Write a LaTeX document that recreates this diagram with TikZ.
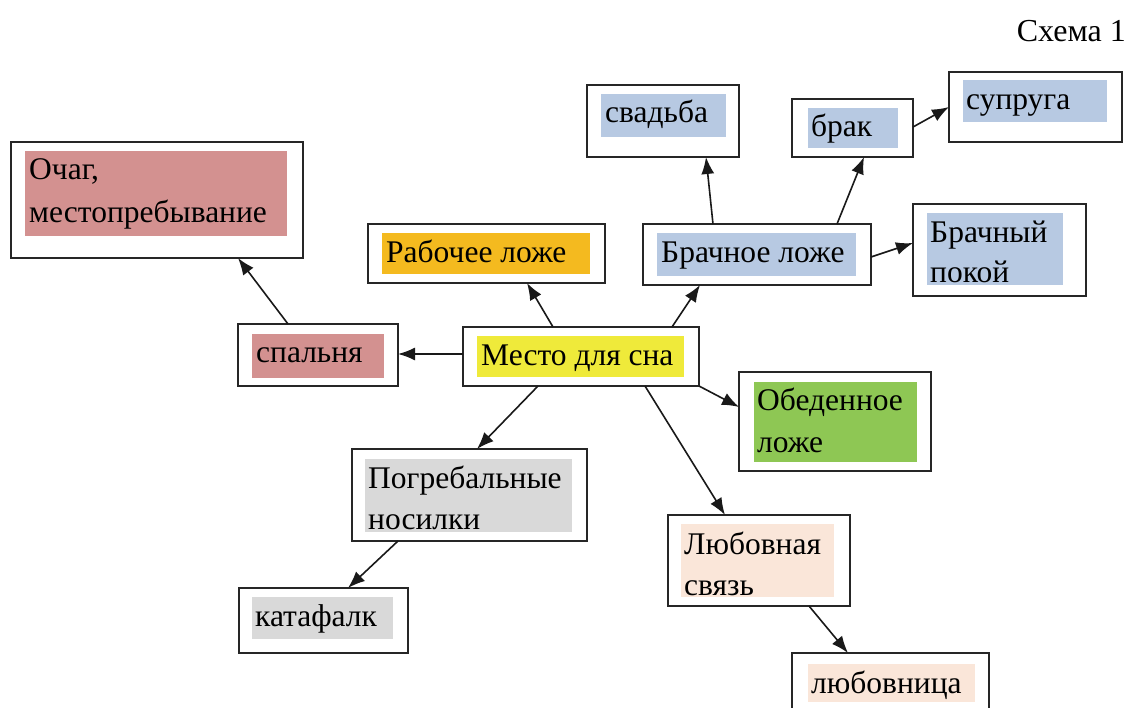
\documentclass[tikz,border=0pt]{standalone}
\usepackage{fontspec}
\setmainfont{Liberation Serif}
\usetikzlibrary{calc,arrows.meta}
\definecolor{cpink}{HTML}{D39190}
\definecolor{corange}{HTML}{F4BA1F}
\definecolor{cyellow}{HTML}{EFEA3A}
\definecolor{cblue}{HTML}{B7C9E2}
\definecolor{cgreen}{HTML}{8EC754}
\definecolor{cpeach}{HTML}{FAE6D9}
\definecolor{cgrey}{HTML}{D9D9D9}
\tikzset{
  box/.style={draw=black!85, line width=1.7pt, fill=white, inner sep=0pt, outer sep=0pt, rectangle},
  hl/.style={fill=#1, draw=none, inner sep=0pt, outer sep=0pt, rectangle},
  lbl/.style={anchor=base west, inner sep=0pt, font=\fontsize{31.5}{41}\selectfont},
  arr/.style={line width=1.6pt, draw=black!90, -{Latex[length=17pt,width=13pt]}},
}
\newcommand\mkrect[6][box]{\node[#1, minimum width={#5-#3}, minimum height={#6-#4}] (#2) at ({(#3+#5)/2},{(#4+#6)/2}) {};}
\begin{document}
\begin{tikzpicture}[x=1pt,y=-1pt]
\useasboundingbox (0,0) rectangle (1130,708);
\fill[white] (0,0) rectangle (1130,708);
\clip (0,0) rectangle (1130,708);

\node[anchor=base east, inner sep=0pt, font=\fontsize{32}{38}\selectfont] (title) at (1126,42) {Схема 1};

% Очаг
\mkrect{ochag}{11}{142}{303}{258}
\mkrect[hl=cpink]{ochagf}{25}{151}{287}{236}
\node[lbl] (ochag1) at (29,180) {Очаг,};
\node[lbl] (ochag2) at (29,223) {местопребывание};

% спальня
\mkrect{spal}{238}{324}{398}{386}
\mkrect[hl=cpink]{spalf}{252}{334}{384}{378}
\node[lbl] (spalt) at (256,363) {спальня};

% Рабочее ложе
\mkrect{rab}{368}{224}{605}{283}
\mkrect[hl=corange]{rabf}{382}{233}{590}{274}
\node[lbl] (rabt) at (386,263) {Рабочее ложе};

% Место для сна
\mkrect{mesto}{463}{327}{699}{386}
\mkrect[hl=cyellow]{mestof}{477}{336}{684}{377}
\node[lbl] (mestot) at (481,366) {Место для сна};

% Брачное ложе
\mkrect{brl}{643}{224}{871}{285}
\mkrect[hl=cblue]{brlf}{657}{233}{856}{276}
\node[lbl] (brlt) at (661,263) {Брачное ложе};

% свадьба
\mkrect{svad}{587}{85}{739}{157}
\mkrect[hl=cblue]{svadf}{601}{94}{726}{137}
\node[lbl] (svadt) at (605,123) {свадьба};

% брак
\mkrect{brak}{792}{99}{913}{157}
\mkrect[hl=cblue]{brakf}{808}{108}{898}{148}
\node[lbl] (brakt) at (811,137) {брак};

% супруга
\mkrect{supr}{949}{72}{1122}{142}
\mkrect[hl=cblue]{suprf}{963}{80}{1107}{122}
\node[lbl] (suprt) at (966,110) {супруга};

% Брачный покой
\mkrect{brpok}{913}{204}{1086}{296}
\mkrect[hl=cblue]{brpokf}{927}{213}{1063}{285}
\node[lbl] (brpok1) at (930,243) {Брачный};
\node[lbl] (brpok2) at (930,283) {покой};

% Обеденное ложе
\mkrect{obed}{739}{372}{931}{471}
\mkrect[hl=cgreen]{obedf}{754}{382}{917}{462}
\node[lbl] (obed1) at (757,411) {Обеденное};
\node[lbl] (obed2) at (757,452) {ложе};

% Любовная связь
\mkrect{lyub}{668}{515}{850}{606}
\mkrect[hl=cpeach]{lyubf}{681}{524}{834}{597}
\node[lbl] (lyub1) at (684,554) {Любовная};
\node[lbl] (lyub2) at (684,595) {связь};

% любовница
\mkrect{lyubn}{792}{653}{989}{725}
\mkrect[hl=cpeach]{lyubnf}{808}{664}{975}{702}
\node[lbl] (lyubnt) at (811,693) {любовница};

% Погребальные носилки
\mkrect{pogr}{352}{449}{587}{541}
\mkrect[hl=cgrey]{pogrf}{365}{459}{572}{532}
\node[lbl] (pogr1) at (368,488) {Погребальные};
\node[lbl] (pogr2) at (368,529) {носилки};

% катафалк
\mkrect{kataf}{239}{588}{408}{653}
\mkrect[hl=cgrey]{kataff}{252}{597}{393}{639}
\node[lbl] (kataft) at (255,626) {катафалк};

% connectors
\draw[arr] ($(mesto.north west)+(0,27)$) -- ($(spal.north east)+(0,30)$);
\draw[arr] ($(spal.north west)+(50,0)$) -- ($(ochag.south west)+(227,0)$);
\draw[arr] ($(mesto.north west)+(90,0)$) -- ($(rab.south west)+(159,0)$);
\draw[arr] ($(mesto.north west)+(209,0)$) -- ($(brl.south west)+(57,0)$);
\draw[arr] ($(brl.north west)+(70,0)$) -- ($(svad.south west)+(119,0)$);
\draw[arr] ($(brl.north west)+(194,0)$) -- ($(brak.south west)+(72,0)$);
\draw[arr] ($(brak.north east)+(0,28)$) -- ($(supr.north west)+(0,35)$);
\draw[arr] ($(brl.north east)+(0,33)$) -- ($(brpok.north west)+(0,39)$);
\draw[arr] (mesto.south east) -- ($(obed.north west)+(0,35)$);
\draw[arr] ($(mesto.south west)+(182,0)$) -- ($(lyub.north west)+(57,0)$);
\draw[arr] ($(lyub.south west)+(141,0)$) -- ($(lyubn.north west)+(56,0)$);
\draw[arr] ($(mesto.south west)+(75,0)$) -- ($(pogr.north west)+(125,0)$);
\draw[arr] ($(pogr.south west)+(46,0)$) -- ($(kataf.north west)+(109,0)$);
\end{tikzpicture}
\end{document}
